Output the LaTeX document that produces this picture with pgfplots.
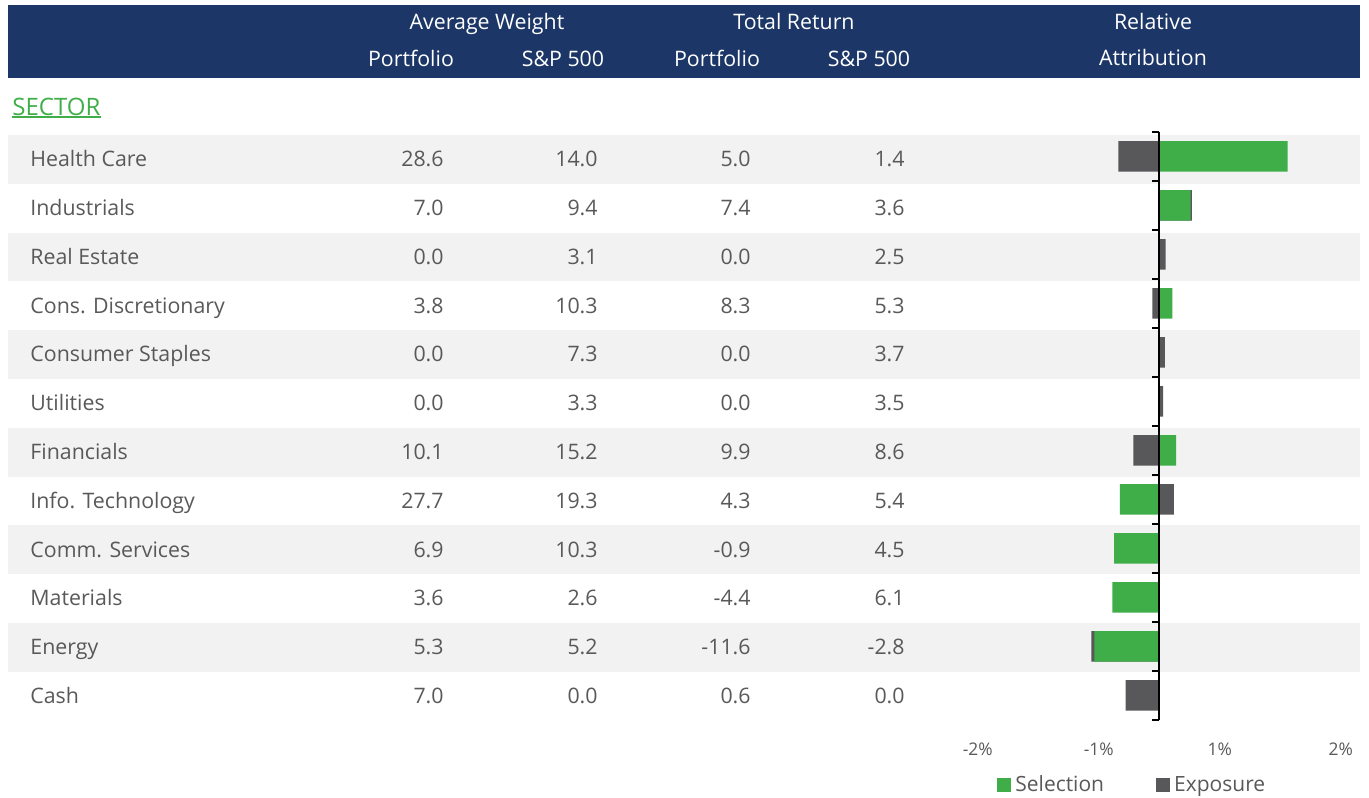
\documentclass[border=0pt]{standalone}
\usepackage{fontspec}
\setmainfont{Open Sans}
\usepackage{pgfplots}
\usepackage{pgfplotstable}
\pgfplotsset{compat=1.18}
\definecolor{navy}{HTML}{1C3767}
\definecolor{selgreen}{HTML}{3FAE49}
\definecolor{expgray}{HTML}{58585A}
\definecolor{band}{HTML}{F2F2F2}
\definecolor{txtgray}{HTML}{595959}
\pgfplotstableread{
y sel exp
0 1.061 -0.339
1 0.258 0.012
2 0 0.053
3 0.107 -0.058
4 0 0.045
5 0 0.031
6 0.138 -0.215
7 -0.325 0.121
8 -0.374 0
9 -0.388 0
10 -0.537 -0.025
11 0 -0.278
}\attr
\begin{document}
\begin{tikzpicture}
\begin{scope}[x=0.5pt,y=-0.5pt,font=\fontsize{10.67}{12}\selectfont]
  \fill[navy] (8,5) rectangle (1360,78);
  \foreach \k in {0,2,4,6,8,10}{
    \fill[band] (8,{135+48.8*\k}) rectangle (1360,{183.8+48.8*\k});
  }
  \begin{scope}[every node/.style={text=white,anchor=base,inner sep=0pt}]
    \node at (487,30) {Average Weight};
    \node at (794,30) {Total Return};
    \node at (1153,30) {Relative};
    \node at (411,67) {Portfolio};
    \node at (563,67) {S\&P 500};
    \node at (717,67) {Portfolio};
    \node at (869,67) {S\&P 500};
    \node at (1153,66) {Attribution};
  \end{scope}
  \node[anchor=base west,inner sep=0pt,text=selgreen,font=\fontsize{12}{14}\selectfont] (sec) at (12,115) {SECTOR};
  \fill[selgreen] (12,116) rectangle (100.5,118);
  \foreach \k/\lab/\a/\b/\c/\d in {
    0/Health Care/28.6/14.0/5.0/1.4,
    1/Industrials/7.0/9.4/7.4/3.6,
    2/Real Estate/0.0/3.1/0.0/2.5,
    3/Cons. Discretionary/3.8/10.3/8.3/5.3,
    4/Consumer Staples/0.0/7.3/0.0/3.7,
    5/Utilities/0.0/3.3/0.0/3.5,
    6/Financials/10.1/15.2/9.9/8.6,
    7/Info. Technology/27.7/19.3/4.3/5.4,
    8/Comm. Services/6.9/10.3/-0.9/4.5,
    9/Materials/3.6/2.6/-4.4/6.1,
    10/Energy/5.3/5.2/-11.6/-2.8,
    11/Cash/7.0/0.0/0.6/0.0}{
    \node[anchor=base west,inner sep=0pt,text=txtgray] at (30,{166.7+48.8*\k}) {\lab};
    \node[anchor=base east,inner sep=0pt,text=txtgray] at (444,{166.7+48.8*\k}) {\a};
    \node[anchor=base east,inner sep=0pt,text=txtgray] at (598,{166.7+48.8*\k}) {\b};
    \node[anchor=base east,inner sep=0pt,text=txtgray] at (751,{166.7+48.8*\k}) {\c};
    \node[anchor=base east,inner sep=0pt,text=txtgray] at (905,{166.7+48.8*\k}) {\d};
  }
\end{scope}
\begin{axis}[
  at={(470pt,-359.9pt)}, anchor=south west,
  scale only axis, width=214.5pt, height=294pt,
  xmin=-1.8124, xmax=1.7331, ymin=-0.5, ymax=11.5, y dir=reverse,
  axis x line*=bottom, axis y line=none, x axis line style={draw=none},
  xtick={-1.5,-0.5,0.5,1.5}, xticklabels={-2\%,-1\%,1\%,2\%},
  major tick length=0pt, ytick=\empty,
  xticklabel style={font=\fontsize{8.7}{10}\selectfont, text=txtgray, anchor=base, yshift=-17.6pt, inner sep=0pt},
  xbar, bar width=15.3pt, bar shift=0pt,
  clip=false,
  legend style={draw=none, fill=none, at={(0.1329,-0.1117)}, anchor=west,
    font=\fontsize{10.5}{12}\selectfont, text=txtgray, inner sep=0pt,
    /tikz/every even column/.append style={column sep=24pt}},
  legend columns=2, legend cell align=left,
  legend image code/.code={\fill[#1,draw=none] (0pt,-3.5pt) rectangle (7pt,3.5pt);},
]
\addplot[fill=expgray, draw=none, bar shift=0pt, forget plot]
  table[y=y, x expr={\thisrow{sel}*\thisrow{exp}>0 ? \thisrow{sel}+\thisrow{exp} : \thisrow{exp}}] {\attr};
\addplot[fill=selgreen, draw=none, bar shift=0pt, forget plot]
  table[y=y, x=sel] {\attr};
\draw[black, line width=1pt] (axis cs:0,-0.5) -- (axis cs:0,11.5);
\pgfplotsinvokeforeach{0,...,12}{
  \draw[black, line width=1pt] (axis cs:0,{#1-0.5}) -- ++(-3.5pt,0pt);
}
\addlegendimage{fill=selgreen,draw=none}
\addlegendentry{Selection}
\addlegendimage{fill=expgray,draw=none}
\addlegendentry{Exposure}
\end{axis}
\pgfresetboundingbox
\path[use as bounding box] (0,0) rectangle (684.5pt,-398.5pt);
\end{tikzpicture}
\end{document}
